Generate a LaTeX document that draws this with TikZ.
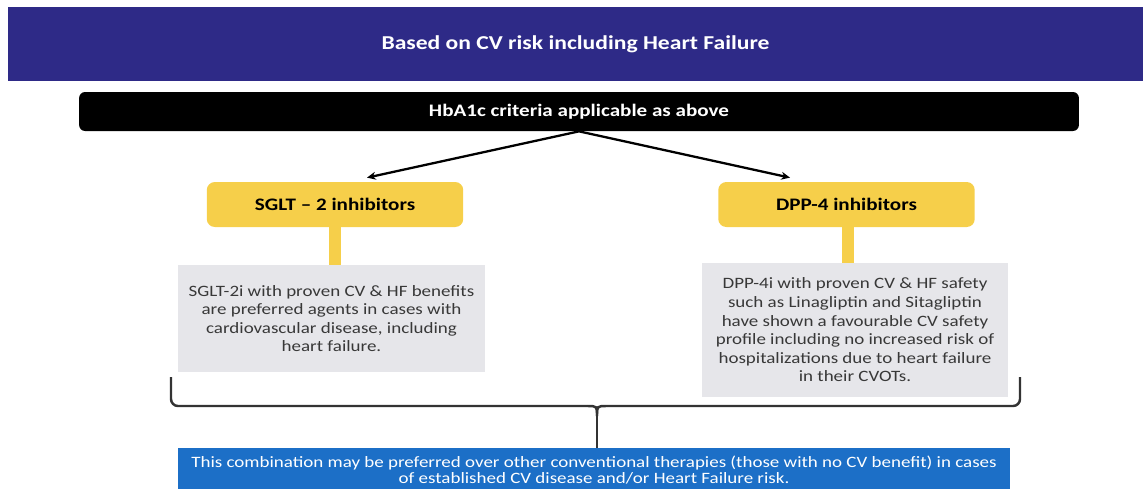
\documentclass[tikz,border=0pt]{standalone}
\usepackage{fontspec}
\setmainfont{Carlito}[FakeStretch=1.2]
\usetikzlibrary{arrows.meta}

\definecolor{bannerblue}{HTML}{2E2A87}
\definecolor{drugyellow}{HTML}{F6CF4A}
\definecolor{notegrey}{HTML}{E6E6EA}
\definecolor{combblue}{HTML}{1C6FC7}
\definecolor{notetext}{HTML}{383838}

\tikzset{
  banner/.style={fill=bannerblue, text=white, inner sep=0pt,
    font=\bfseries\fontsize{11.2}{13}\selectfont},
  criteria/.style={fill=black, text=white, rounded corners=0.12cm, inner sep=0pt,
    font=\bfseries\fontsize{10}{12}\selectfont},
  drug/.style={fill=drugyellow, rounded corners=0.16cm, inner sep=0pt,
    minimum width=5.13cm, minimum height=0.9cm,
    font=\bfseries\fontsize{10}{12}\selectfont},
  note/.style={fill=notegrey, text=notetext, inner sep=0pt, align=center,
    minimum width=6.13cm, font=\fontsize{9}{10.6}\selectfont},
  combo/.style={fill=combblue, text=white, inner sep=0pt, align=center,
    font=\fontsize{9}{9.2}\selectfont},
  stem/.style={drugyellow, line width=0.24cm},
  arr/.style={-{Stealth[length=5pt,width=4.5pt]}, line width=1.3pt},
  brace/.style={draw=black!80, line width=1.4pt},
}

\begin{document}
\begin{tikzpicture}[x=0.02cm, y=-0.02cm]
 \useasboundingbox (0,0) rectangle (1143,488);

 \node[banner, minimum width=22.7cm, minimum height=1.48cm] (cvrisk) at (575.5,44) {Based on CV risk including Heart Failure};
 \node[criteria, minimum width=20cm, minimum height=0.78cm] (hba) at (579,111.5) {HbA1c criteria applicable as above};

 \node[drug] (sglt) at (335,204.5) {SGLT -- 2 inhibitors};
 \node[drug] (dpp) at (846.5,204.5) {DPP-4 inhibitors};

 \node[note, minimum height=2.14cm] (sgltnote) at (331.5,318.5) {SGLT-2i with proven CV \& HF benefits\\ are preferred agents in cases with\\ cardiovascular disease, including\\ heart failure.};
 \node[note, minimum height=2.68cm] (dppnote) at (855,330) {DPP-4i with proven CV \& HF safety\\ such as Linagliptin and Sitagliptin\\ have shown a favourable CV safety\\ profile including no increased risk of\\ hospitalizations due to heart failure\\ in their CVOTs.};

 \node[combo, minimum width=16.64cm, minimum height=0.88cm] (combo) at (594,470) {This combination may be preferred over other conventional therapies (those with no CV benefit) in cases\\ of established CV disease and/or Heart Failure risk.};

 % arrows from criteria bar
 \draw[arr] (hba.south) -- ([xshift=0.64cm,yshift=0.08cm]sglt.north);
 \draw[arr] (hba.south) -- ([xshift=-1.13cm,yshift=0.08cm]dpp.north);

 % yellow stems
 \draw[stem] (sglt.south) -- (sglt.south |- sgltnote.north);
 \draw[stem] ([xshift=0.03cm]dpp.south) -- ([xshift=0.03cm]dpp.south |- dppnote.north);

 % bracket
 \coordinate (bl) at (171,377);
 \coordinate (br) at (1020,377);
 \coordinate (bm) at (597,406);
 \coordinate (btip) at (597,416);
 \draw[brace, rounded corners=0.14cm] (bl) |- ([xshift=-0.2cm]bm);
 \draw[brace, rounded corners=0.14cm] ([xshift=0.2cm]bm) -| (br);
 \draw[brace] ([xshift=-0.2cm]bm) .. controls (bm) .. (btip);
 \draw[brace] ([xshift=0.2cm]bm) .. controls (bm) .. (btip);
 \draw[brace] (btip) -- (btip |- combo.north);
\end{tikzpicture}
\end{document}
